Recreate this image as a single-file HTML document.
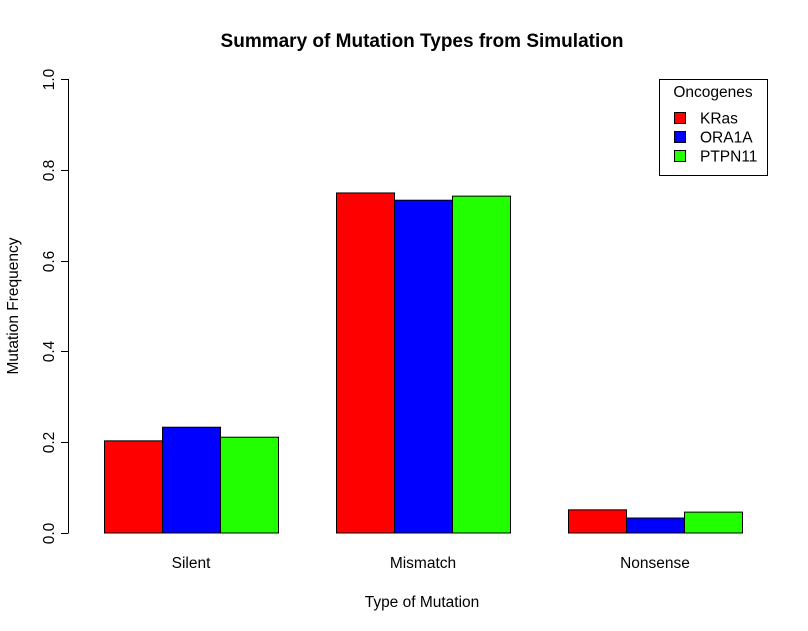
<!DOCTYPE html>
<html><head><meta charset="utf-8"><style>body{margin:0;background:#fff}svg{display:block}text{font-family:"Liberation Sans",Arial,sans-serif}</style></head>
<body>
<svg width="808" height="631" xmlns="http://www.w3.org/2000/svg">
<text x="422" y="47" font-size="19" font-weight="bold" text-anchor="middle">Summary of Mutation Types from Simulation</text>
<text x="422" y="607" font-size="15.5" text-anchor="middle">Type of Mutation</text>
<text transform="translate(18,306) rotate(-90)" font-size="15.5" text-anchor="middle">Mutation Frequency</text>
<g id="yaxis"></g>
<g id="bars"></g>
<g id="xlabels"></g>
<g>
<rect x="659.5" y="79.5" width="108" height="96" fill="#fff" stroke="#000"/>
<text x="713" y="97" font-size="15.5" text-anchor="middle">Oncogenes</text>
<g id="legend-entries"></g>
</g>
</svg>
<script>
const categories=["Silent","Mismatch","Nonsense"];
const seriesNames=["KRas","ORA1A","PTPN11"];
const seriesColors=["#ff0000","#0000ff","#22ff00"];
const kras=[0.203,0.749,0.051];
const ora1a=[0.233,0.733,0.033];
const ptpn11=[0.211,0.742,0.046];
const yTicks=["0.0","0.2","0.4","0.6","0.8","1.0"];
const NS="http://www.w3.org/2000/svg";
const y0=533,ppu=454;
function yScale(v){return y0-v*ppu;}
function groupX(i){return 104+i*232;}
const barW=58;
function mk(t,a,p){const e=document.createElementNS(NS,t);for(const k in a)e.setAttribute(k,a[k]);p.appendChild(e);return e;}
const ya=document.getElementById('yaxis');
const axl=mk('line',{x1:68.5,x2:68.5,y1:yScale(0),y2:yScale(1),stroke:'#000'},ya);


yTicks.forEach(t=>{const v=parseFloat(t);const y=Math.round(yScale(v))+0.5;
const l=mk('line',{x1:61,x2:68.5,y1:y,y2:y,stroke:'#000'},ya);


const tx=mk('text',{transform:`translate(54,${y}) rotate(-90)`,'font-size':15.5,'text-anchor':'middle'},ya);tx.textContent=t;

});
const series=[kras,ora1a,ptpn11];
const bg=document.getElementById('bars');
categories.forEach((c,i)=>{series.forEach((s,j)=>{const x=groupX(i)+j*barW;const y=yScale(s[i]);
const r=mk('rect',{x:x+0.5,y:y,width:barW,height:y0-y,fill:seriesColors[j],stroke:'#000'},bg);

});
const t=mk('text',{x:groupX(i)+barW*1.5,y:568,'font-size':15.5,'text-anchor':'middle'},document.getElementById('xlabels'));t.textContent=c;

});
const lg=document.getElementById('legend-entries');
seriesNames.forEach((n,j)=>{const cy=118+j*19;
const r=mk('rect',{x:674.5,y:cy-5.5,width:11,height:11,fill:seriesColors[j],stroke:'#000'},lg);


const t=mk('text',{x:700,y:cy+5.5,'font-size':15.5},lg);t.textContent=n;

});
</script>
</body></html>
